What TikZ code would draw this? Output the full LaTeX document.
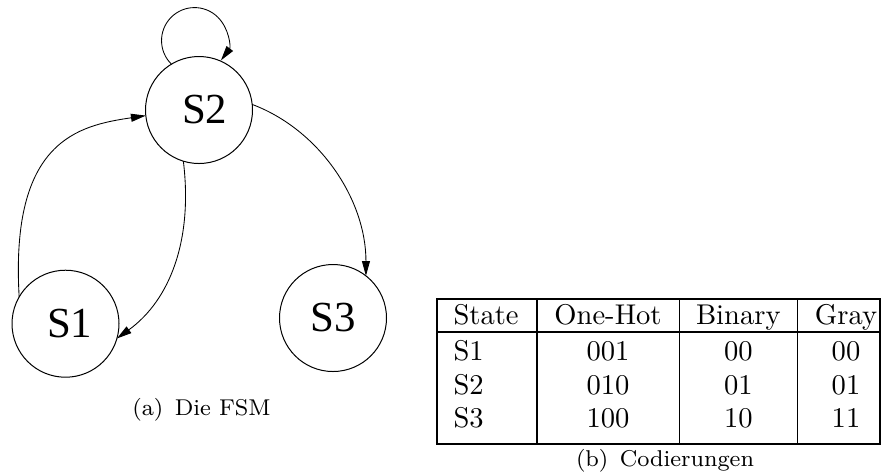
\documentclass[tikz,border=0pt]{standalone}
\usepackage{fontspec}
\newfontfamily\timesf{Liberation Serif}
\usetikzlibrary{arrows.meta}
\begin{document}
\begin{tikzpicture}[x=0.35pt,y=-0.35pt,
  state/.style={circle,draw,line width=0.35pt,minimum size=37.45pt,inner sep=0pt,outer sep=0pt,font=\fontsize{15}{17}\selectfont\timesf},
  trans/.style={line width=0.3pt,-{Triangle[length=5.2pt,width=2.8pt]}},
  tline/.style={line width=0.5pt},
  lcell/.style={anchor=base west,inner sep=0pt,font=\normalsize},
  cell/.style={anchor=base,inner sep=0pt,font=\normalsize},
  captext/.style={anchor=base,inner sep=0pt,font=\footnotesize}]
\path[use as bounding box] (0,0) rectangle (882,472);
% states
\node[state] (S2) at (199,110) {\hspace{4pt}S2};
\node[state] (S1) at (65.5,323.7) {\hspace{3pt}S1};
\node[state] (S3) at (333,318) {S3};
% transitions
\draw[trans] (S1.150) .. controls (10,140) and (78.5,125.6) .. (S2.186);
\draw[trans] (S2.253) .. controls (193,240) and (170,300) .. (S1.344);
\draw[trans] (S2.6) .. controls (320,130) and (366,200) .. (S3.52);
\draw[trans] (S2.121) arc[start angle=134.4, end angle=396.9, radius=33];
\node[captext] (capa) at (201.5,415) {(a)\enspace Die FSM};
% table
\draw[tline] (437,299) rectangle (880,444);
\draw[tline] (437,332) -- (880,332);
\draw[tline] (537,299) -- (537,444);
\draw[tline] (679.5,299) -- (679.5,444);
\draw[tline] (797.5,299) -- (797.5,444);
\node[lcell] (h1) at (453,324.5) {State};
\node[cell] (h2) at (608,324.5) {One-Hot};
\node[cell] (h3) at (738.3,324.5) {Binary};
\node[cell] (h4) at (846,324.5) {Gray};
\node[lcell] (a1) at (453,360.5) {S1};
\node[cell] (a2) at (608,360.5) {001};
\node[cell] (a3) at (738.3,360.5) {00};
\node[cell] (a4) at (846,360.5) {00};
\node[lcell] (b1) at (453,394) {S2};
\node[cell] (b2) at (608,394) {010};
\node[cell] (b3) at (738.3,394) {01};
\node[cell] (b4) at (846,394) {01};
\node[lcell] (c1) at (453,427.5) {S3};
\node[cell] (c2) at (608,427.5) {100};
\node[cell] (c3) at (738.3,427.5) {10};
\node[cell] (c4) at (846,427.5) {11};
\node[captext] (capb) at (665,466) {(b)\enspace Codierungen};
\end{tikzpicture}
\end{document}
